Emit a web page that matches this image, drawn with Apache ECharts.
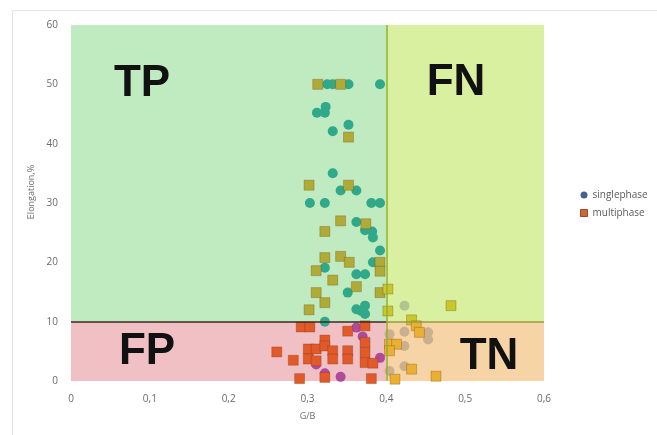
<!DOCTYPE html>
<html>
<head>
<meta charset="utf-8">
<script src="https://cdn.jsdelivr.net/npm/echarts@6/dist/echarts.min.js"></script>
<style>html,body{margin:0;padding:0;background:#fff}#c{width:657px;height:435px}</style>
</head>
<body>
<div id="c"></div>
<script>
const seriesNames = ['singlephase', 'multiphase'];
const xTickLabels = ['0', '0,1', '0,2', '0,3', '0,4', '0,5', '0,6'];
const yTickLabels = ['0', '10', '20', '30', '40', '50', '60'];
const xThreshold = 0.4;
const yThreshold = 10;
const regionNames = ['TP', 'FN', 'FP', 'TN'];

const singlephase = [
  [0.325,50],[0.332,50],[0.352,50],[0.392,50],
  [0.323,46.2],[0.312,45.2],[0.322,45.2],
  [0.352,43.2],[0.332,42.1],
  [0.332,35.0],[0.342,32.1],[0.362,32.1],
  [0.303,30.0],[0.322,30.0],[0.381,30.0],[0.392,30.0],
  [0.362,26.8],[0.373,25.4],[0.382,25.2],[0.383,24.2],
  [0.392,22.0],[0.383,20.0],[0.322,19.1],[0.362,18.0],[0.373,18.0],
  [0.351,14.9],[0.362,12.1],[0.373,12.7],[0.373,11.3],[0.368,11.8],
  [0.322,10.0],[0.362,9.0],[0.370,7.5],[0.311,2.8],[0.392,3.9],[0.322,1.3],[0.342,0.7],
  [0.423,12.7],
  [0.423,8.3],[0.453,8.2],[0.453,7.0],[0.423,5.9],[0.404,7.9],[0.423,2.5],[0.404,1.7]
];

const multiphase = [
  [0.313,50],[0.342,50],
  [0.352,41.1],
  [0.302,33.0],[0.352,33.0],
  [0.342,27.0],[0.374,26.5],[0.322,25.2],
  [0.342,21.0],[0.322,20.8],[0.353,20.0],[0.392,20.0],[0.311,18.6],[0.392,18.5],
  [0.332,17.0],[0.362,15.9],[0.311,14.9],[0.392,14.9],[0.402,15.5],
  [0.322,13.2],[0.302,12.0],[0.402,11.8],
  [0.292,9.1],[0.303,9.1],[0.351,8.4],[0.373,9.3],[0.322,6.9],[0.373,6.5],
  [0.261,4.9],[0.301,5.4],[0.311,5.4],[0.322,5.9],[0.332,5.1],[0.351,5.1],[0.373,4.8],
  [0.282,3.5],[0.301,3.7],[0.311,3.4],[0.332,3.7],[0.351,3.7],[0.373,3.1],[0.383,3.0],
  [0.290,0.4],[0.322,0.6],[0.381,0.4],
  [0.482,12.7],[0.432,10.3],[0.438,9.3],[0.442,8.2],[0.404,6.2],[0.413,6.2],[0.404,5.1],
  [0.432,2.0],[0.463,0.8],[0.411,0.3]
];

const regionFill = { TP: '#c0eac0', FN: '#d9f0a0', FP: '#f0c0c4', TN: '#f6d4a6' };
const circleColor = { TP: '#30a88a', FN: '#b3c58e', FP: '#b04a9c', TN: '#cbb08f' };
const squareColor = { TP: '#b0ab36', FN: '#c9c62e', FP: '#e2592a', TN: '#e9b032' };

function regionOf(v) {
  const left = v[0] < xThreshold;
  const top = v[1] >= yThreshold;
  if (left && top) return 'TP';
  if (!left && top) return 'FN';
  if (left && !top) return 'FP';
  return 'TN';
}

const chart = echarts.init(document.getElementById('c'));
const font = "'Open Sans', 'Liberation Sans', sans-serif";
const bigFont = "bold 44px 'Liberation Sans', Arial, sans-serif";

chart.setOption({
  animation: false,
  backgroundColor: '#ffffff',
  textStyle: { fontFamily: font },
  grid: { left: 71, right: 113, top: 25, bottom: 54 },
  xAxis: {
    type: 'value', min: 0, max: 0.6, interval: 0.1,
    name: 'G/B', nameLocation: 'middle', nameGap: 31,
    nameTextStyle: { color: '#6b6b6b', fontSize: 9, fontFamily: font },
    axisLine: { show: false }, axisTick: { show: false }, splitLine: { show: false },
    axisLabel: {
      color: '#6b6b6b', fontSize: 10, margin: 13, fontFamily: font,
      formatter: v => xTickLabels[Math.round(v / 0.1)]
    }
  },
  yAxis: {
    type: 'value', min: 0, max: 60, interval: 10,
    name: 'Elongation,%', nameLocation: 'middle', nameGap: 34,
    nameTextStyle: { color: '#6b6b6b', fontSize: 9, fontFamily: font, padding: [0, 0, 0, 22] },
    axisLine: { show: false }, axisTick: { show: false }, splitLine: { show: false },
    axisLabel: {
      color: '#6b6b6b', fontSize: 10, margin: 13, fontFamily: font,
      formatter: v => yTickLabels[Math.round(v / 10)]
    }
  },
  legend: {
    orient: 'vertical', left: 575, top: 185, itemGap: 8,
    itemWidth: 7, itemHeight: 7,
    textStyle: { color: '#5a5a5a', fontSize: 10, fontFamily: font },
    data: [
      { name: seriesNames[0], icon: 'circle', itemStyle: { color: '#44628f' } },
      { name: seriesNames[1], icon: 'rect', itemStyle: { color: '#c8693a', borderColor: '#9a4a25', borderWidth: 1 } }
    ]
  },
  graphic: [
    { type: 'rect', shape: { x: 12.5, y: 10.5, width: 700, height: 500 }, style: { fill: 'none', stroke: '#e4e4e4', lineWidth: 1 }, silent: true, z: -10 },
    { type: 'text', style: { text: regionNames[0], x: 142, y: 84, align: 'center', verticalAlign: 'middle', font: bigFont, fill: '#111' }, z: 100 },
    { type: 'text', style: { text: regionNames[1], x: 456, y: 83, align: 'center', verticalAlign: 'middle', font: bigFont, fill: '#111' }, z: 100 },
    { type: 'text', style: { text: regionNames[2], x: 147, y: 352, align: 'center', verticalAlign: 'middle', font: bigFont, fill: '#111' }, z: 100 },
    { type: 'text', style: { text: regionNames[3], x: 489, y: 357, align: 'center', verticalAlign: 'middle', font: bigFont, fill: '#111' }, z: 100 }
  ],
  series: [
    {
      name: 'regions', type: 'scatter', data: [], z: 1, silent: true,
      markArea: {
        silent: true,
        label: { show: false },
        data: [
          [{ coord: [0, yThreshold], itemStyle: { color: regionFill.TP, opacity: 1 } }, { coord: [xThreshold, 60] }],
          [{ coord: [xThreshold, yThreshold], itemStyle: { color: regionFill.FN, opacity: 1 } }, { coord: [0.6, 60] }],
          [{ coord: [0, 0], itemStyle: { color: regionFill.FP, opacity: 1 } }, { coord: [xThreshold, yThreshold] }],
          [{ coord: [xThreshold, 0], itemStyle: { color: regionFill.TN, opacity: 1 } }, { coord: [0.6, yThreshold] }]
        ]
      }
    },
    {
      name: seriesNames[0], type: 'scatter', z: 3, clip: false,
      symbol: 'circle', symbolSize: 10,
      data: singlephase,
      itemStyle: { opacity: 1, color: p => circleColor[regionOf(p.value)] }
    },
    {
      name: seriesNames[1], type: 'scatter', z: 3, clip: false,
      symbol: 'rect', symbolSize: 10,
      data: multiphase,
      itemStyle: { opacity: 1, borderColor: 'rgba(90,40,0,0.25)', borderWidth: 1, color: p => squareColor[regionOf(p.value)] }
    },
    {
      name: 'lines', type: 'scatter', data: [], z: 5, silent: true,
      markLine: {
        silent: true, symbol: ['none', 'none'], label: { show: false },
        data: [
          [{ coord: [xThreshold, 0], lineStyle: { color: '#8fb02a', width: 1.5, type: 'solid' } }, { coord: [xThreshold, 60] }],
          [{ coord: [0, yThreshold], lineStyle: { color: '#3c2a22', width: 1.5, type: 'solid' } }, { coord: [xThreshold, yThreshold] }],
          [{ coord: [xThreshold, yThreshold], lineStyle: { color: '#9a9a3a', width: 1.5, type: 'solid' } }, { coord: [0.6, yThreshold] }]
        ]
      }
    }
  ]
});
</script>
</body>
</html>
